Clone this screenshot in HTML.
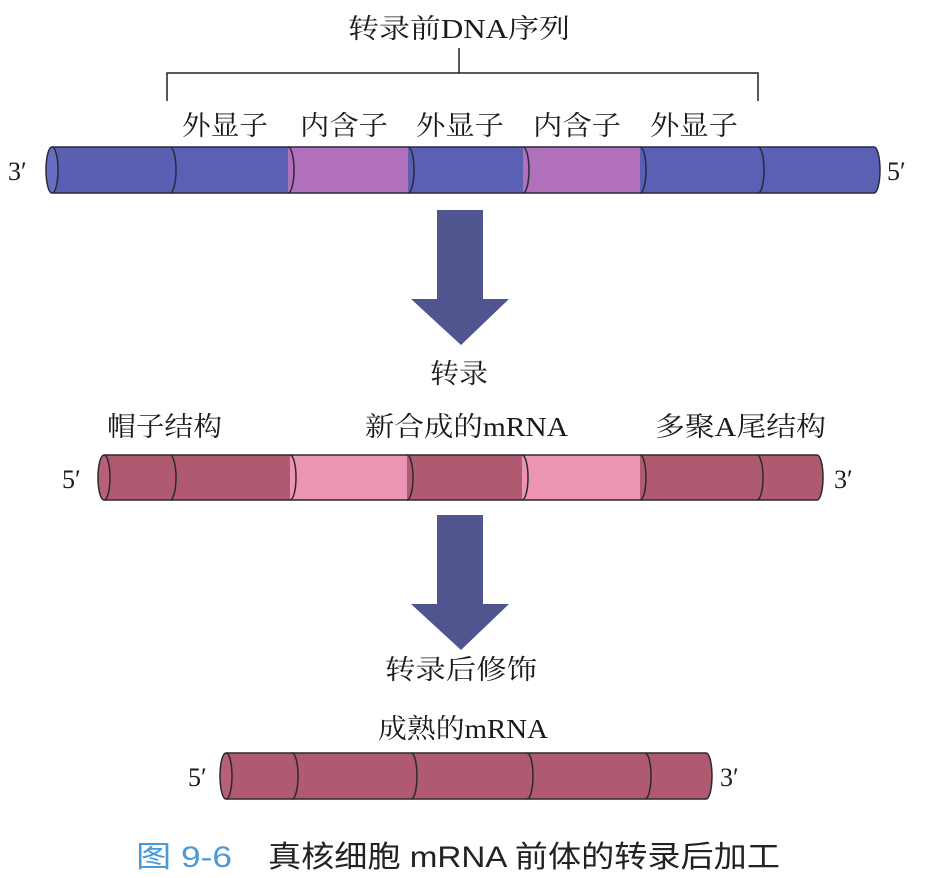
<!DOCTYPE html>
<html><head><meta charset="utf-8"><style>
html,body{margin:0;padding:0;background:#fff;}
svg{display:block}
text{font-family:"Liberation Serif","Noto Serif CJK SC",serif;fill:#1a1a1a;}
</style></head><body>
<svg width="925" height="878" viewBox="0 0 925 878" xmlns="http://www.w3.org/2000/svg">
<g stroke="#222" stroke-width="1.5" fill="none">
<path d="M167 101 V73 H758 V101 M459 48 V73"/>
</g>
<text x="348" y="38" font-size="27" textLength="222" lengthAdjust="spacingAndGlyphs">转录前DNA序列</text>
<g font-size="27">
<text x="182" y="135" textLength="86" lengthAdjust="spacingAndGlyphs">外显子</text>
<text x="300" y="135" textLength="88" lengthAdjust="spacingAndGlyphs">内含子</text>
<text x="416" y="135" textLength="88" lengthAdjust="spacingAndGlyphs">外显子</text>
<text x="533" y="135" textLength="88" lengthAdjust="spacingAndGlyphs">内含子</text>
<text x="650" y="135" textLength="88" lengthAdjust="spacingAndGlyphs">外显子</text>
</g>
<!-- bar 1 -->
<g stroke="#2a2a3a" stroke-width="1.5">
<rect x="52" y="147" width="118" height="46" fill="#5b5fb2" stroke="none"/>
<rect x="170" y="147" width="118" height="46" fill="#5b60b4" stroke="none"/>
<rect x="288" y="147" width="120" height="46" fill="#b070bc" stroke="none"/>
<rect x="408" y="147" width="115" height="46" fill="#5b60b4" stroke="none"/>
<rect x="523" y="147" width="117" height="46" fill="#b070bc" stroke="none"/>
<rect x="640" y="147" width="118" height="46" fill="#5b60b4" stroke="none"/>
<rect x="758" y="147" width="116" height="46" fill="#5b60b4" stroke="none"/>
<path d="M874 147 A6 23 0 0 1 874 193" fill="#5b60b4"/>
<line x1="52" y1="147" x2="874" y2="147"/><line x1="52" y1="193" x2="874" y2="193"/>
<ellipse cx="52" cy="170" rx="6" ry="23" fill="#6a6ec0"/>
<g fill="none"><path d="M170 147 A6 23 0 0 1 170 193"/><path d="M288 147 A6 23 0 0 1 288 193"/><path d="M408 147 A6 23 0 0 1 408 193"/><path d="M523 147 A6 23 0 0 1 523 193"/><path d="M640 147 A6 23 0 0 1 640 193"/><path d="M758 147 A6 23 0 0 1 758 193"/></g>
</g>
<text x="8" y="180" font-size="26">3′</text><text x="887" y="180" font-size="26">5′</text>
<!-- arrow 1 -->
<path d="M437 210 H483 V299 H509 L461 345 L411 299 H437 Z" fill="#50558f"/>
<text x="430" y="383" font-size="27" textLength="58" lengthAdjust="spacingAndGlyphs">转录</text>
<g font-size="27">
<text x="107" y="436" textLength="115" lengthAdjust="spacingAndGlyphs">帽子结构</text>
<text x="365" y="436" textLength="203" lengthAdjust="spacingAndGlyphs">新合成的mRNA</text>
<text x="655" y="436" textLength="171" lengthAdjust="spacingAndGlyphs">多聚A尾结构</text>
</g>
<!-- bar 2 -->
<g stroke="#2a2a2a" stroke-width="1.5">
<rect x="104" y="455" width="66" height="45" fill="#b05a72" stroke="none"/>
<rect x="170" y="455" width="120" height="45" fill="#b05a72" stroke="none"/>
<rect x="290" y="455" width="117" height="45" fill="#eb94b4" stroke="none"/>
<rect x="407" y="455" width="115" height="45" fill="#b05a72" stroke="none"/>
<rect x="522" y="455" width="118" height="45" fill="#eb94b4" stroke="none"/>
<rect x="640" y="455" width="117" height="45" fill="#b05a72" stroke="none"/>
<rect x="757" y="455" width="60" height="45" fill="#b05a72" stroke="none"/>
<path d="M817 455 A6 22.5 0 0 1 817 500" fill="#b05a72"/>
<line x1="104" y1="455" x2="817" y2="455"/><line x1="104" y1="500" x2="817" y2="500"/>
<ellipse cx="104" cy="477.5" rx="6" ry="22.5" fill="#b86078"/>
<g fill="none"><path d="M170 455 A6 22.5 0 0 1 170 500"/><path d="M290 455 A6 22.5 0 0 1 290 500"/><path d="M407 455 A6 22.5 0 0 1 407 500"/><path d="M522 455 A6 22.5 0 0 1 522 500"/><path d="M640 455 A6 22.5 0 0 1 640 500"/><path d="M757 455 A6 22.5 0 0 1 757 500"/></g>
</g>
<text x="62" y="488" font-size="26">5′</text><text x="834" y="488" font-size="26">3′</text>
<!-- arrow 2 -->
<path d="M437 515 H483 V604 H509 L461 650 L411 604 H437 Z" fill="#50558f"/>
<text x="385" y="679" font-size="27" textLength="152" lengthAdjust="spacingAndGlyphs">转录后修饰</text>
<text x="378" y="738" font-size="27" textLength="170" lengthAdjust="spacingAndGlyphs">成熟的mRNA</text>
<!-- bar 3 -->
<g stroke="#2a2a2a" stroke-width="1.5">
<rect x="226" y="753" width="480" height="46" fill="#b05a72" stroke="none"/>
<path d="M706 753 A6 23 0 0 1 706 799" fill="#b05a72"/>
<line x1="226" y1="753" x2="706" y2="753"/><line x1="226" y1="799" x2="706" y2="799"/>
<ellipse cx="226" cy="776" rx="6" ry="23" fill="#b86078"/>
<g fill="none"><path d="M292 753 A6 23 0 0 1 292 799"/><path d="M411 753 A6 23 0 0 1 411 799"/><path d="M527 753 A6 23 0 0 1 527 799"/><path d="M645 753 A6 23 0 0 1 645 799"/></g>
</g>
<text x="188" y="786" font-size="26">5′</text><text x="720" y="786" font-size="26">3′</text>
<!-- caption -->
<text x="136" y="867" font-size="30" textLength="96" lengthAdjust="spacingAndGlyphs" style="font-family:'Liberation Sans','Noto Sans CJK SC',sans-serif;fill:#4a9ad8">图 9-6</text>
<text x="268" y="867" font-size="30" textLength="512" lengthAdjust="spacingAndGlyphs" style="font-family:'Liberation Sans','Noto Sans CJK SC',sans-serif;fill:#222">真核细胞 mRNA 前体的转录后加工</text>
</svg>
</body></html>
